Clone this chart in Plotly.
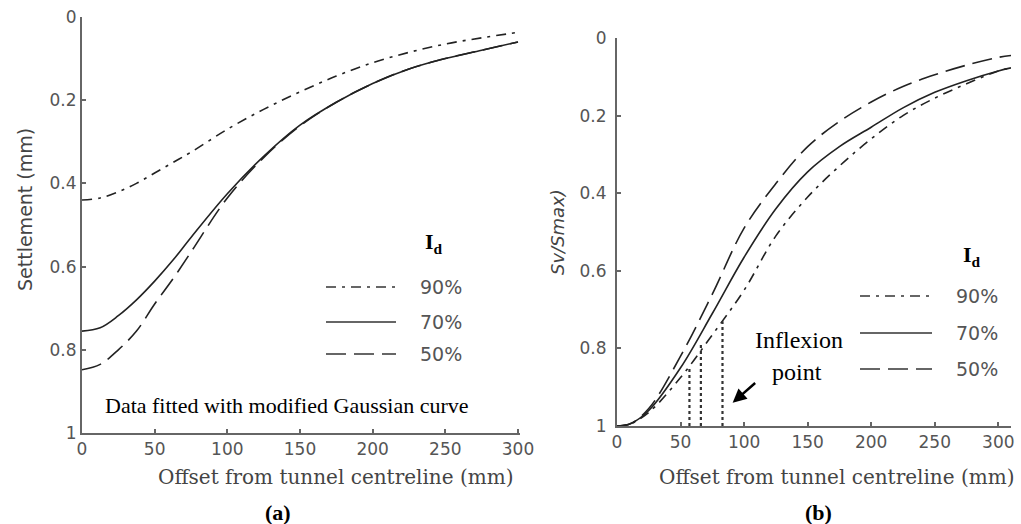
import plotly.graph_objects as go

W, H = 1021, 524

# ---------------- data ----------------
offset_a = [0, 12.5, 25, 37.5, 50, 62.5, 75, 100, 125, 150, 175, 200, 225, 250, 275, 300]
settle_90 = [0.44, 0.435, 0.42, 0.40, 0.375, 0.35, 0.325, 0.27, 0.222, 0.18, 0.142, 0.11, 0.085, 0.065, 0.05, 0.037]
settle_70 = [0.755, 0.747, 0.718, 0.68, 0.635, 0.585, 0.53, 0.425, 0.335, 0.26, 0.205, 0.16, 0.125, 0.10, 0.08, 0.06]
settle_50 = [0.848, 0.835, 0.80, 0.755, 0.69, 0.63, 0.565, 0.435, 0.338, 0.262, 0.205, 0.16, 0.125, 0.10, 0.08, 0.06]

offset_b = [0, 10, 25, 50, 75, 100, 125, 150, 175, 200, 225, 250, 275, 300, 310]
norm_90 = [1.0, 0.995, 0.965, 0.875, 0.765, 0.65, 0.51, 0.41, 0.33, 0.26, 0.20, 0.155, 0.118, 0.085, 0.077]
norm_70 = [1.0, 0.995, 0.96, 0.85, 0.71, 0.565, 0.44, 0.345, 0.28, 0.23, 0.18, 0.14, 0.11, 0.085, 0.077]
norm_50 = [1.0, 0.995, 0.955, 0.82, 0.66, 0.49, 0.375, 0.28, 0.215, 0.165, 0.125, 0.095, 0.07, 0.05, 0.045]

inflex_x = [57, 66, 83]
inflex_y = [0.85, 0.79, 0.73]

legend_labels = ["90%", "70%", "50%"]
x_ticks = [0, 50, 100, 150, 200, 250, 300]
y_ticks = [0, 0.2, 0.4, 0.6, 0.8, 1]

# ---------------- styles ----------------
CURVE = "#222222"
AXIS = "#666666"
TXT = "#555555"
DASH_90 = "10px,6px,3px,6px"
DASH_50 = "20px,8px"
dashes = [DASH_90, "solid", DASH_50]


def px(x):
    return x / W


def py(y):
    return 1 - y / H


fig = go.Figure()

# panel (a)
for yv, d in zip([settle_90, settle_70, settle_50], dashes):
    fig.add_trace(go.Scatter(x=offset_a, y=yv, mode="lines", line=dict(color=CURVE, width=1.6, dash=d, shape="spline"),
                             xaxis="x", yaxis="y", showlegend=False, hoverinfo="skip"))
# panel (b)
for yv, d in zip([norm_90, norm_70, norm_50], dashes):
    fig.add_trace(go.Scatter(x=offset_b, y=yv, mode="lines", line=dict(color=CURVE, width=1.6, dash=d, shape="spline"),
                             xaxis="x2", yaxis="y2", showlegend=False, hoverinfo="skip"))
# inflexion dotted lines
for xi, yi in zip(inflex_x, inflex_y):
    fig.add_trace(go.Scatter(x=[xi, xi], y=[1, yi], mode="lines", line=dict(color="#333333", width=2.2, dash="dot"),
                             xaxis="x2", yaxis="y2", showlegend=False, hoverinfo="skip"))

axis_common = dict(showline=True, linecolor=AXIS, linewidth=2, ticks="inside", ticklen=4, tickcolor=AXIS,
                   tickwidth=1.5, showgrid=False, zeroline=False, automargin=False,
                   tickfont=dict(family="DejaVu Sans", size=17, color=TXT))

fig.update_layout(
    width=W, height=H,
    margin=dict(l=0, r=0, t=0, b=0),
    paper_bgcolor="white", plot_bgcolor="white",
    template="none",
    xaxis=dict(domain=[px(82), px(520)], range=[0, 301.4], tickvals=x_ticks, anchor="y", **axis_common),
    yaxis=dict(domain=[py(433), py(17)], range=[1, 0], tickvals=y_ticks, anchor="x", **axis_common, ticklabelstandoff=0),
    xaxis2=dict(domain=[px(617), px(1011)], range=[0, 310], tickvals=x_ticks, anchor="y2", **axis_common),
    yaxis2=dict(domain=[py(426), py(38)], range=[1, 0], tickvals=y_ticks, anchor="x2", **axis_common, ticklabelstandoff=5),
)

shapes = []
annotations = []


def text(x, y, s, size, family, color="black", angle=0, xanchor="center"):
    annotations.append(dict(x=px(x), y=py(y), xref="paper", yref="paper", text=s, showarrow=False,
                            font=dict(family=family, size=size, color=color), textangle=angle,
                            xanchor=xanchor, yanchor="middle"))


# legends
leg_a = dict(x0=326, x1=396, ys=[287, 322, 354], lx=441, idx=434, idy=243)
leg_b = dict(x0=860, x1=932, ys=[296, 333, 369], lx=977, idx=972, idy=256)
for leg in (leg_a, leg_b):
    for yy, d, lab in zip(leg["ys"], dashes, legend_labels):
        shapes.append(dict(type="line", xref="paper", yref="paper", x0=px(leg["x0"]), x1=px(leg["x1"]),
                           y0=py(yy), y1=py(yy), line=dict(color="#666666", width=2, dash=d)))
        text(leg["lx"], yy, lab, 19, "DejaVu Sans", TXT)
    text(leg["idx"], leg["idy"], "<b>I<sub>d</sub></b>", 22, "Liberation Serif")

# axis titles
text(25, 210, "Settlement (mm)", 19, "DejaVu Sans", "#444444", angle=-90)
text(557, 232, "<i>Sv/Smax)</i>", 18, "DejaVu Sans", "#444444", angle=-90)
text(335, 477, "Offset from tunnel centreline (mm)", 20, "DejaVu Serif", "#444444")
text(836, 477, "Offset from tunnel centreline (mm)", 20, "DejaVu Serif", "#444444")

# other texts
text(287, 405, "Data fitted with modified Gaussian curve", 22, "Liberation Serif")
text(278, 512, "<b>(a)</b>", 22, "Liberation Serif")
text(818, 512, "<b>(b)</b>", 22, "Liberation Serif")
text(845, 340, "Inflexion", 24, "Liberation Serif", xanchor="right")
text(824, 372, "point", 24, "Liberation Serif", xanchor="right")

# arrow to inflexion points
annotations.append(dict(x=91, y=0.94, xref="x2", yref="y2", ax=24, ay=-21, axref="pixel", ayref="pixel",
                        text="", showarrow=True, arrowhead=2, arrowsize=1.1, arrowwidth=2.5, arrowcolor="black"))

fig.update_layout(shapes=shapes, annotations=annotations)
fig.write_html("out.html", config={"displayModeBar": False},
               post_script="document.body.style.margin='0';document.body.style.overflow='hidden';")
